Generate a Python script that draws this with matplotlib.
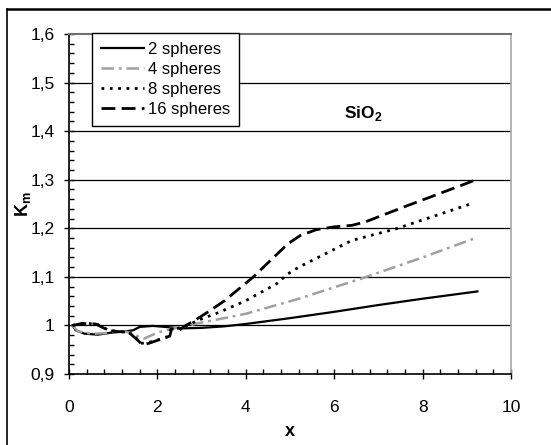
import matplotlib
matplotlib.use("Agg")
import matplotlib.pyplot as plt
from matplotlib import font_manager
from matplotlib.lines import Line2D
from matplotlib.ticker import MultipleLocator, FixedLocator, FixedFormatter

names = {f.name for f in font_manager.fontManager.ttflist}
FONT = "Liberation Sans Narrow" if "Liberation Sans Narrow" in names else "Liberation Sans"
plt.rcParams["font.family"] = [FONT, "DejaVu Sans"]
plt.rcParams["mathtext.fontset"] = "custom"
plt.rcParams["mathtext.rm"] = FONT
plt.rcParams["mathtext.bf"] = FONT + ":bold"
plt.rcParams["lines.scale_dashes"] = False

# 2 spheres
x2 = [0.08, 0.15, 0.35, 0.65, 0.95, 1.2, 1.45, 1.6, 1.9, 2.3, 2.6, 3.0, 3.5, 4.0, 5.0, 6.0, 7.0, 8.0, 9.24]
y2 = [1.000, 0.990, 0.983, 0.981, 0.985, 0.987, 0.990, 0.997, 0.999, 0.996, 0.994, 0.995, 0.998, 1.003,
      1.015, 1.028, 1.042, 1.055, 1.070]
# 4 spheres
x4 = [0.08, 0.2, 0.5, 0.8, 1.0, 1.3, 1.55, 1.7, 2.0, 2.3, 2.6, 2.9, 3.4, 4.0, 5.2, 6.6, 8.0, 9.2]
y4 = [1.000, 0.988, 0.983, 0.984, 0.987, 0.987, 0.978, 0.973, 0.985, 0.993, 0.997, 1.004, 1.013, 1.024,
      1.055, 1.096, 1.140, 1.180]
# 8 spheres
x8 = [0.08, 0.35, 0.65, 0.9, 1.2, 1.45, 1.62, 1.8, 2.2, 2.3, 2.6, 2.9, 3.4, 4.0, 4.7, 4.95, 5.2, 5.35,
      6.4, 7.4, 9.05]
y8 = [1.000, 1.005, 1.002, 0.990, 0.987, 0.982, 0.963, 0.965, 0.975, 0.992, 0.996, 1.010, 1.027, 1.051,
      1.086, 1.106, 1.120, 1.127, 1.175, 1.199, 1.249]
# 16 spheres
x16 = [0.08, 0.3, 0.6, 0.8, 1.0, 1.35, 1.55, 1.65, 1.8, 2.28, 2.32, 2.5, 2.57, 2.89, 3.2, 3.52, 3.84,
       4.16, 4.48, 4.71, 4.95, 5.23, 5.59, 6.0, 6.4, 6.7, 7.58, 8.37, 9.24]
y16 = [1.000, 1.004, 1.003, 0.994, 0.988, 0.986, 0.970, 0.961, 0.963, 0.978, 0.993, 0.990, 0.996, 1.013,
       1.031, 1.051, 1.075, 1.099, 1.127, 1.147, 1.168, 1.185, 1.197, 1.203, 1.206, 1.213, 1.244, 1.271,
       1.301]

labels = ["2 spheres", "4 spheres", "8 spheres", "16 spheres"]
ytick_vals = [0.9, 1.0, 1.1, 1.2, 1.3, 1.4, 1.5, 1.6]
ytick_labels = ["0,9", "1", "1,1", "1,2", "1,3", "1,4", "1,5", "1,6"]

fig = plt.figure(figsize=(5.51, 4.45), dpi=100)
ax = fig.add_axes([69 / 551, 71 / 445, 442 / 551, 340 / 445])

ax.plot(x2, y2, color="black", lw=1.6, label=labels[0])
ax.plot(x4, y4, color="#a0a0a0", lw=1.8, dashes=(9, 3.5, 2, 3.5), label=labels[1])
ax.plot(x8, y8, color="black", lw=2.0, dashes=(2, 4), label=labels[2])
ax.plot(x16, y16, color="black", lw=2.0, dashes=(10, 4.5), label=labels[3])

ax.set_xlim(0, 10)
ax.set_ylim(0.9, 1.6)
ax.xaxis.set_major_locator(MultipleLocator(2))
ax.xaxis.set_minor_locator(MultipleLocator(0.4))
ax.yaxis.set_major_locator(FixedLocator(ytick_vals))
ax.yaxis.set_major_formatter(FixedFormatter(ytick_labels))
ax.yaxis.set_minor_locator(MultipleLocator(0.02))

for y in ytick_vals[1:-1]:
    ax.axhline(y, color="black", lw=0.9, zorder=1)

ax.spines["left"].set_linewidth(1.2)
ax.spines["bottom"].set_linewidth(1.2)
ax.spines["top"].set_color("#707070")
ax.spines["top"].set_linewidth(1.5)
ax.spines["right"].set_color("#a8a8a8")
ax.spines["right"].set_linewidth(1.2)

ax.tick_params(axis="both", which="major", direction="inout", length=7, width=1, labelsize=12.5)
ax.tick_params(axis="x", which="major", pad=15)
ax.tick_params(axis="y", which="major", pad=7)
ax.tick_params(axis="both", which="minor", direction="in", length=3.5, width=1)
ax.tick_params(top=False, right=False, which="both")

ax.set_xlabel("x", fontsize=13, fontweight="bold")
ax.set_ylabel(r"K$_\mathbf{m}$", fontsize=13, fontweight="bold")
ax.xaxis.set_label_coords(0.5, -(432 - 374) / 340)
ax.xaxis.label.set_va("center")
ax.yaxis.set_label_coords(-(69 - 23) / 442, 0.5)
ax.yaxis.label.set_va("center")

ax.text(6.66, 1.436, r"SiO$_\mathbf{2}$", fontsize=12.5, fontweight="bold", ha="center", va="center")

leg = ax.legend(loc="upper left", bbox_to_anchor=(0.052, 1.003), borderaxespad=0, fontsize=12,
                frameon=True, fancybox=False, handlelength=2.6, handletextpad=0.2,
                labelspacing=0.3, borderpad=0.55)
leg.get_frame().set_edgecolor("black")
leg.get_frame().set_linewidth(1.0)
leg.get_frame().set_alpha(1)

# outer frame of the original figure
fig.add_artist(Line2D([7 / 551, 7 / 551], [0, 436 / 445], color="black", lw=1.2))
fig.add_artist(Line2D([7 / 551, 1], [436 / 445, 436 / 445], color="black", lw=1.8))

fig.savefig("out.png", dpi=100)
